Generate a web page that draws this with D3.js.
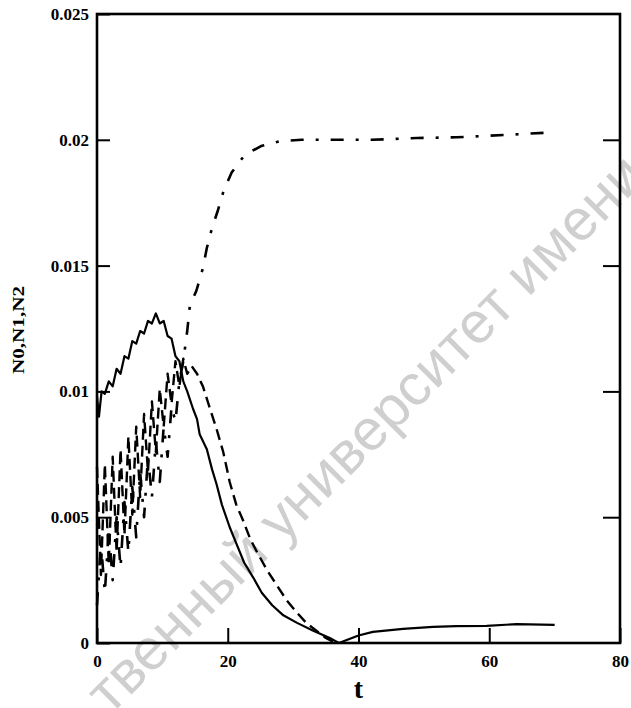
<!DOCTYPE html>
<html>
<head>
<meta charset="utf-8">
<script src="https://cdn.jsdelivr.net/npm/d3@7"></script>
<style>
  html, body { margin: 0; padding: 0; background: #fff; }
  svg { display: block; }
</style>
</head>
<body>
<svg id="chart" width="631" height="708"></svg>
<script>
// ---- data ----
const xTicks = [0, 20, 40, 60, 80];
const xTickLabels = ["0", "20", "40", "60", "80"];
const yTicks = [0, 0.005, 0.01, 0.015, 0.02, 0.025];
const yTickLabels = ["0", "0.005", "0.01", "0.015", "0.02", "0.025"];
const xTitle = "t";
const yTitle = "N0,N1,N2";
const watermarkText = "твенный университет имени";

// N0 (solid)
const tN0 = [0, 0.3, 0.7, 1.2, 1.8, 2.4, 3.0, 3.6, 4.2, 4.8, 5.4, 6.0, 6.6, 7.2, 7.8, 8.4, 9.0, 9.6, 10.2, 10.8,
  11.4, 12.0, 12.6, 13.2, 13.8, 14.7, 15.3, 15.7, 16.8, 17.6, 18.3, 19.1, 20.3, 21.4, 22.5, 23.9, 25.2, 26.8,
  28.5, 30.6, 33, 35.6, 37, 39, 40, 42.2, 46.8, 51.4, 55, 59.6, 64.2, 70];
const vN0 = [0.0098, 0.0090, 0.0100, 0.0099, 0.0104, 0.0102, 0.0109, 0.0107, 0.0114, 0.0113, 0.0120, 0.0119,
  0.0124, 0.0123, 0.0128, 0.0127, 0.0131, 0.0127, 0.0128, 0.0122, 0.0121, 0.0114, 0.0112, 0.0104, 0.0100,
  0.0093, 0.0089, 0.0083, 0.0077, 0.0069, 0.0063, 0.0055, 0.0046, 0.0039, 0.0032, 0.0026, 0.0020, 0.0015,
  0.0011, 0.0008, 0.0005, 0.0002, 0.0000, 0.0002, 0.0003, 0.00044, 0.00056, 0.00064, 0.00067, 0.00068,
  0.00075, 0.00072];

// N1 (dashed)
const tN1 = [0, 0.6, 1.2, 1.8, 2.4, 3.0, 3.6, 4.2, 4.8, 5.4, 6.0, 6.6, 7.2, 7.8, 8.4, 9.0, 9.6, 10.2, 10.8,
  11.4, 12.0, 12.6, 13.2, 13.8, 14.5, 15.3, 16.2, 17.3, 18.3, 19.3, 20.3, 21.3, 22.3, 23.5, 24.5, 26, 27.5,
  29, 30.6, 32, 33.5, 35, 36.5];
const vN1 = [0.0070, 0.0027, 0.0071, 0.0031, 0.0074, 0.0036, 0.0077, 0.0043, 0.0082, 0.0051, 0.0086, 0.0058,
  0.0091, 0.0068, 0.0096, 0.0076, 0.0101, 0.0086, 0.0107, 0.0095, 0.0112, 0.0102, 0.0113, 0.0107, 0.0110,
  0.0107, 0.0102, 0.0093, 0.0085, 0.0076, 0.0064, 0.0055, 0.0049, 0.0041, 0.0036, 0.0029, 0.0023, 0.0017,
  0.0012, 0.0008, 0.0005, 0.0002, 0.0000];

// N2 (dash-dot)
const tN2 = [0, 0.6, 1.2, 1.8, 2.4, 3.0, 3.6, 4.2, 4.8, 5.4, 6.0, 6.6, 7.2, 7.8, 8.4, 9.0, 9.6, 10.2, 10.8,
  11.4, 12.0, 12.6, 13.2, 13.8, 14.2, 15.2, 16.2, 16.8, 17.6, 18.5, 19.4, 20.6, 22.6, 25.1, 28, 31.3, 35,
  42, 49, 55, 63, 70];
const vN2 = [0.0015, 0.0040, 0.0020, 0.0045, 0.0025, 0.0050, 0.0030, 0.0056, 0.0036, 0.0062, 0.0042, 0.0068,
  0.0050, 0.0074, 0.0058, 0.0080, 0.0064, 0.0086, 0.0074, 0.0094, 0.0088, 0.0104, 0.0112, 0.0124, 0.0134,
  0.0140, 0.0149, 0.0157, 0.0165, 0.0172, 0.0180, 0.0187, 0.0194, 0.01975, 0.01995, 0.0200, 0.0200,
  0.0200, 0.02007, 0.0201, 0.0202, 0.0203];

// ---- drawing ----
const svg = d3.select("#chart");
const x = d3.scaleLinear().domain([0, 80]).range([97, 620]);
const y = d3.scaleLinear().domain([0, 0.025]).range([643, 14]);
const FONT = "'Liberation Serif', 'Times New Roman', serif";

// watermark (behind)
svg.append("text")
  .attr("transform", "translate(110,716) rotate(-45)")
  .attr("font-family", "'Liberation Sans', Arial, sans-serif")
  .attr("font-size", 58)
  .attr("fill", "#cfcfcf")
  .text(watermarkText);

const line = d3.line().x(d => x(d.t)).y(d => y(d.v));
const zip = (ts, vs) => ts.map((t, i) => ({ t: t, v: vs[i] }));

const series = [
  { data: zip(tN0, vN0), dash: null, w: 2.2 },
  { data: zip(tN1, vN1), dash: "11,6", w: 2.4 },
  { data: zip(tN2, vN2), dash: "13,12,3,12", w: 2.6 }
];
svg.append("g").selectAll("path").data(series).join("path")
  .attr("d", d => line(d.data))
  .attr("fill", "none")
  .attr("stroke", "#000")
  .attr("stroke-width", d => d.w)
  .attr("stroke-dasharray", d => d.dash)
  .attr("stroke-linejoin", "round");

// axes
const styleAxis = g => {
  g.attr("font-family", FONT).attr("font-size", 17).attr("font-weight", "bold");
  g.select(".domain").remove();
  g.selectAll(".tick line").attr("stroke", "#000").attr("stroke-width", 2);
  g.selectAll(".tick text").attr("fill", "#000");
};

svg.append("g")
  .attr("transform", `translate(0,${y(0)})`)
  .call(d3.axisBottom(x).tickValues(xTicks).tickSizeInner(-15).tickSizeOuter(0).tickPadding(12)
    .tickFormat((d, i) => xTickLabels[i]))
  .call(styleAxis);

svg.append("g")
  .attr("transform", `translate(${x(0)},0)`)
  .call(d3.axisLeft(y).tickValues(yTicks).tickSizeInner(-13).tickSizeOuter(0).tickPadding(8)
    .tickFormat((d, i) => yTickLabels[i]))
  .call(styleAxis);

svg.append("g")
  .attr("transform", `translate(${x(80)},0)`)
  .call(d3.axisRight(y).tickValues(yTicks.slice(1, 5)).tickSizeInner(-17).tickSizeOuter(0)
    .tickFormat(""))
  .call(styleAxis);

// frame
svg.append("rect")
  .attr("x", x(0)).attr("y", y(0.025))
  .attr("width", x(80) - x(0)).attr("height", y(0) - y(0.025))
  .attr("fill", "none").attr("stroke", "#000").attr("stroke-width", 2.6);

// titles
svg.append("text")
  .attr("x", x(40)).attr("y", 698)
  .attr("text-anchor", "middle")
  .attr("font-family", FONT).attr("font-size", 28).attr("font-weight", "bold")
  .text(xTitle);

svg.append("text")
  .attr("transform", "translate(24,330) rotate(-90)")
  .attr("text-anchor", "middle")
  .attr("font-family", FONT).attr("font-size", 17).attr("font-weight", "bold")
  .attr("textLength", 88).attr("lengthAdjust", "spacingAndGlyphs")
  .text(yTitle);
</script>
</body>
</html>
